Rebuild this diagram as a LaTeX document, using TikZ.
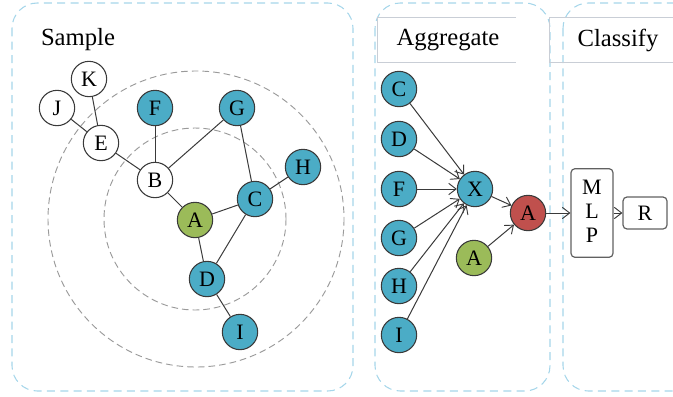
\documentclass[tikz,border=0pt]{standalone}
\usepackage{fontspec}
\setmainfont{Liberation Serif}
\usetikzlibrary{arrows.meta}
\definecolor{teal}{HTML}{4BACC6}
\definecolor{leaf}{HTML}{9BBB59}
\definecolor{brick}{HTML}{C0504D}
\definecolor{panelblue}{HTML}{A6D6EA}
\definecolor{ringgray}{HTML}{9A9A9A}
\definecolor{headgray}{HTML}{C9CED6}
\definecolor{edgegray}{HTML}{3A3A3A}
\begin{document}
\begin{tikzpicture}[x=0.75pt,y=-0.75pt,
  vtx/.style={circle,draw=edgegray,line width=0.8pt,minimum size=26.5pt,inner sep=0pt,
    font=\fontsize{16.5}{16.5}\selectfont},
  plain/.style={vtx,fill=white},
  blue/.style={vtx,fill=teal},
  green/.style={vtx,fill=leaf},
  red/.style={vtx,fill=brick},
  link/.style={draw=edgegray,line width=0.75pt},
  flow/.style={link,-{Straight Barb[length=5.5pt,width=8.5pt,line width=0.7pt]}},
  panel/.style={draw=panelblue,dashed,dash pattern=on 6pt off 4pt,line width=0.8pt,rounded corners=19pt},
  ring/.style={draw=ringgray,dash pattern=on 5pt off 3pt,line width=0.7pt},
  title/.style={font=\fontsize{18.5}{18.5}\selectfont},
  box/.style={draw=edgegray!80,line width=0.9pt,rounded corners=3pt,fill=white,
    font=\fontsize{16.5}{19}\selectfont,inner sep=0pt}]
\useasboundingbox (0,0) rectangle (673,396);

% dashed panels
\draw[panel] (12,3) rectangle (353,391);
\draw[panel] (375,3) rectangle (550,391);
\begin{scope}
  \clip (0,0) rectangle (673,396);
  \draw[panel] (563,3) rectangle (700,391);
\end{scope}

% header strips
\draw[headgray,line width=0.6pt] (516,17) -- (377,17) -- (377,62) -- (516,62);
\draw[headgray,line width=0.6pt] (673,17) -- (549,17) -- (549,62) -- (673,62);

% titles
\node[title] (tsample) at (78,40) {Sample};
\node[title] (taggr) at (448,40) {Aggregate};
\node[title] (tclass) at (618,40) {Classify};

% neighbourhood rings around the target vertex
\draw[ring] (195,219) circle (91);
\draw[ring] (196,219) circle (148);

% sampled graph
\node[plain] (K) at (89,79) {K};
\node[plain] (J) at (57,108) {J};
\node[plain] (E) at (101,143) {E};
\node[blue]  (F) at (155,108) {F};
\node[blue]  (G) at (237,108) {G};
\node[plain] (B) at (155,180) {B};
\node[blue]  (H) at (303,167) {H};
\node[blue]  (C) at (255,199) {C};
\node[green] (A) at (195,220) {A};
\node[blue]  (D) at (207,279) {D};
\node[blue]  (I) at (240,332) {I};

\draw[link] (K) -- (E);
\draw[link] (J) -- (E);
\draw[link] (E) -- (B);
\draw[link] (F) -- (B);
\draw[link] (B) -- (G);
\draw[link] (B) -- (A);
\draw[link] (G) -- (C);
\draw[link] (H) -- (C);
\draw[link] (A) -- (C);
\draw[link] (A) -- (D);
\draw[link] (C) -- (D);
\draw[link] (D) -- (I);

% aggregation
\node[blue] (aC) at (399,89) {C};
\node[blue] (aD) at (399,139) {D};
\node[blue] (aF) at (399,189) {F};
\node[blue] (aG) at (399,238) {G};
\node[blue] (aH) at (399,286) {H};
\node[blue] (aI) at (399,335) {I};
\node[blue] (X) at (475,189) {X};
\node[red] (out) at (528,213) {A};
\node[green] (self) at (474,258) {A};

\foreach \s in {aC,aD,aF,aG,aH,aI} \draw[flow] (\s) -- (X);
\draw[flow] (X) -- (out);
\draw[flow] (self) -- (out);

% classifier
\node[box,minimum width=31.5pt,minimum height=66.5pt] (mlp) at (592,213)
  {\begin{tabular}{@{}c@{}}M\\[-1pt]L\\[-1pt]P\end{tabular}};
\node[box,minimum width=33pt,minimum height=24pt] (R) at (645,213) {R};
\draw[flow] (out) -- (mlp);
\draw[flow] (mlp) -- (R);
\end{tikzpicture}
\end{document}
